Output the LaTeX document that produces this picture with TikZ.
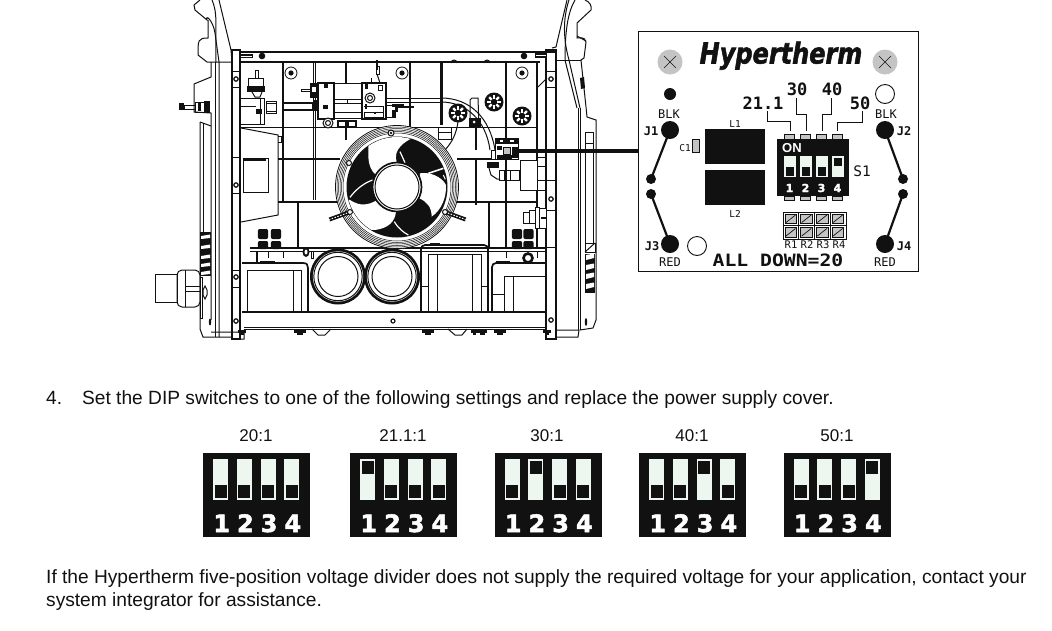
\documentclass[tikz,border=0pt]{standalone}
\usepackage{graphicx}
\usepackage{fontspec}
\setmainfont{Liberation Sans}
\newfontfamily\pcb{DejaVu Sans Mono}
\newfontfamily\pcbb{DejaVu Sans Mono Bold}
\newfontfamily\dipfont{DejaVu Sans Bold}[FakeBold=2]
\newfontfamily\brandfont{DejaVu Sans Bold Oblique}[FakeBold=2]
\definecolor{ink}{HTML}{111111}
\definecolor{sw}{HTML}{EEF7EF}
\definecolor{screwg}{HTML}{C4C4C4}
\tikzset{
 l1/.style={draw=ink,line width=1pt},
 l2/.style={draw=ink,line width=1.7pt},
 l3/.style={draw=ink,line width=2.6pt},
 body/.style={anchor=base west,inner sep=0,font=\fontsize{19.15}{23}\selectfont,text=ink},
 captxt/.style={anchor=base,inner sep=0,font=\fontsize{17}{20}\selectfont,text=ink},
 num/.style={anchor=base,inner sep=0,text=white,font=\fontsize{24}{25}\selectfont\dipfont},
 silk/.style={anchor=base,inner sep=0,text=ink,font=\fontsize{12}{12}\selectfont\pcb},
 silkb/.style={anchor=base,inner sep=0,text=ink,font=\fontsize{17}{17}\selectfont\pcbb},
}
\newcommand{\dipsw}[6]{%
 \begin{scope}[shift={(#1,#2)}]
 \fill[ink] (0,0) rectangle (107,84);
 \foreach \k/\u in {0/#3,1/#4,2/#5,3/#6}{
  \pgfmathsetmacro{\xx}{10+\k*23.8}
  \fill[sw] (\xx,6) rectangle ++(15,41);
  \ifnum\u=1 \fill[ink] (\xx+1.5,8) rectangle ++(12,13);
  \else \fill[ink] (\xx+1.5,32) rectangle ++(12,13);\fi
 }
 \foreach \k/\n in {0/1,1/2,2/3,3/4}{
  \node[num] at (18.7+\k*23.7,79) {\n};}
 \end{scope}}
\begin{document}
\begin{tikzpicture}[x=1pt,y=-1pt]
\useasboundingbox (0,0) rectangle (1052,630);
\fill[white] (0,0) rectangle (1052,630);
% ---------- power supply chassis ----------
\draw[l2] (240,52) -- (556,52);
\draw[l2] (240,62) -- (540,62);
\draw[l2] (242,312) -- (546,312);
\draw[l1] (244,327) -- (546,327);
\draw[l1] (244,329) -- (546,329);
% left handle
\draw[l1] (219,0) -- (231,50) -- (232,62);
\draw[l1] (219,337) -- (219,62) -- (215,33) .. controls (213,20) and (205,14) .. (207,20) -- (195,10) -- (194,5) -- (200,0);
\draw[l1] (212,0) .. controls (218,15) and (215,20) .. (216,62);
\draw[l1] (208,20) -- (208,38) .. controls (198,38) and (198,40) .. (198,55) -- (207,62) -- (232,62);
\draw[l1] (211,62) -- (211,77) -- (194,84) -- (194,112) -- (211,113) -- (211,320);
\draw[l1] (215,62) -- (215,337);
\draw[l1] (200,122) -- (200,329) -- (203,337) -- (232,337);
\draw[l1] (203,123) -- (203,232);
\draw[l1] (200,122) -- (211,126);
\draw[l1] (211,332) -- (237,332) -- (244,333) -- (244,339) -- (232,339);
\draw[l2] (232,50) rectangle (240,339);
\draw[l1] (232,71) -- (240,71) (232,87) -- (240,87);
\draw[l1] (232,270) -- (240,270) (232,287) -- (240,287) (232,157) -- (240,157) (232,193) -- (240,193);
\foreach \x/\y in {236/79,236/185,236/277,236/321} \draw[l1,fill=white,line width=1.2pt] (\x,\y) circle (2.2);
% left fitting
\fill[ink] (179,103) rectangle (184,110);
\draw[l1] (184,105) rectangle (195,109);
\draw[l1] (195,102) rectangle (205,112);
\fill[ink] (198,103) rectangle (201,111);
\fill[ink] (204,101) rectangle (210,113);
% cooling slots left
\fill[ink] (200,232) rectangle (211,276);
\foreach \y in {236,246,256,264,272}{\fill[white] (201,\y) -- (210,\y-1.5) -- (210,\y+2) -- (201,\y+3) -- cycle;}
% strain relief
\draw[l1] (155,274) rectangle (177,302);
\draw[l1,rounded corners=5pt] (177,270) -- (200,270) -- (200,307) -- (177,307) -- cycle;
\draw[l1] (185,270) -- (185,307) (185,286) -- (200,286) (185,291) -- (200,291);
\draw[l1] (200,277) rectangle (202,318);
\draw[l1] (205,286) -- (207,290) -- (207,295) -- (205,299) -- (203,295) -- (203,290) -- cycle;
\fill[ink] (210,322) ellipse (1.2 and 3.5);
% inner left panel
\draw[l1] (241,128) -- (278,135) -- (278,215) -- (241,222);
\draw[l1] (278,136) -- (281,136) -- (281,142) -- (278,142);
\draw[l1] (243,158) rectangle (268,192);
\fill[ink] (244,159) rectangle (266,161);
% top-left bar
\fill[ink] (240,54) rectangle (253,58);
\fill[white] (241,55.5) rectangle (252,56.5);
% vertical plate lines
\draw[l2] (283,62) -- (283,202);
\draw[l1] (313,62) -- (313,200) (315.5,62) -- (315.5,200);
\draw[l3] (346,62) -- (346,83);
\draw[l2] (346,127) -- (346,140);
\draw[l2] (410,62) -- (410,127);
\draw[l3] (441.5,62) -- (441.5,125);
\draw[l3] (506,62) -- (506,138);
\draw[l2] (476,127) -- (476,150);
\draw[l3] (476,159) -- (476,205);
\draw[l2] (506,159) -- (506,248);
\draw[l1] (241,127) -- (537,127);
\draw[l2] (278,159) -- (340,159);
\draw[l2] (278,202) -- (340,202);
\draw[l2] (298,202) -- (298,248);
\draw[l2] (455,202) -- (537,202);
\draw[l2] (489,202) -- (489,248);
\draw[l2] (250,248) -- (546,248);
\draw[l1] (250,251) -- (546,251);
\draw[l2] (457,159) -- (495,159);
\draw[l2] (537,62) -- (537,248);
% screws top
\foreach \x/\y in {291/73,402/73,522/73}{
 \draw[l1,fill=white,line width=.8pt] (\x,\y) circle (6);
 \fill[ink] (\x,\y) circle (2.6);}
\foreach \x/\y in {262/56,524/56} {\fill[ink] (\x,\y) circle (3.3);}
% left valve
\draw[l1,fill=white] (255,70) rectangle (258,78);
\draw[l1] (248,78) rectangle (263,87);
\fill[ink] (247,86) rectangle (265,92);
\draw[l1] (252,92) -- (255,97) -- (260,97) -- (262,92);
\draw[l1] (241,98) -- (264,98) -- (264,124) -- (241,124);
\draw[l1] (241,106) -- (256,106) (260,98) -- (260,124);
\fill[ink] (256,109) rectangle (262,114);
\draw[l1] (266,101) rectangle (276,113);
\draw[l1] (266,103) -- (276,103) (266,111) -- (276,111);
\draw[l2,fill=white] (283,103) rectangle (313,110);
% regulator
\fill[ink] (313,100) rectangle (317,111);
\fill[ink] (310,83) rectangle (318,98);
\fill[white] (312,87) rectangle (316,92);
\draw[l1] (301,89) rectangle (310,91);
\draw[l2,fill=white] (318,83) rectangle (334,119);
\fill[ink] (324,84) rectangle (328,88);
\fill[ink] (323,105) rectangle (328,109);
\draw[l1,fill=white] (334,83) rectangle (362,118);
\draw[l1] (334,99) -- (362,99) (334,103) -- (362,103) (347,99) -- (347,103);
\draw[l1] (334,112) -- (362,112);
\draw[l2,fill=white] (362,83) rectangle (386,119);
\draw[l1] (364,112) rectangle (383,117);
\draw[l1] (364,106) -- (383,106) -- (383,117);
\draw[l1,fill=white] (370,98) circle (5);
\draw[l1] (370,98) circle (2.5);
\draw[l1] (378,85) rectangle (382,90);
\fill[ink] (365,84) rectangle (368,89);
\fill[ink] (365,104) rectangle (367,109);
\fill[ink] (374,112) rectangle (376,114);
\draw[l2] (377,60) -- (377,70);
\draw[l1] (376,66) rectangle (379,74);
\draw[l1] (377,74) -- (380,83);
\draw[l1] (371,78) -- (371,83);
\draw[l1,fill=white] (328,123) circle (5);
\draw[l1] (328,123) circle (2.5);
\fill[ink] (337,120) rectangle (357,127);
\fill[white] (339,122) rectangle (345,126);
\fill[white] (349,122) rectangle (355,126);
% right of regulator
\draw[l1] (387,98) -- (441,98);
\draw[l1] (387,102) -- (441,102);
\draw[l1] (386,105) -- (395,105) -- (395,117) -- (386,117);
\fill[ink] (392,104) rectangle (404,107);
\fill[ink] (392,110) rectangle (396,118);
\fill[ink] (396,105) rectangle (398,112);
\fill[ink] (398,106) rectangle (414,108);
% tube to voltage divider
\draw[l1] (441,98) .. controls (470,98) and (490,118) .. (495,150);
\draw[l1] (441,102) .. controls (466,102) and (486,120) .. (490,150);
\draw[l1,fill=white] (491,150) rectangle (495,159);
\fill[ink] (487,162) rectangle (499,168);
\draw[l1] (489,168) -- (491,175) -- (497,179) -- (500,179);
\draw[l1] (499,170) rectangle (519,180);
\draw[l1] (504,170) -- (504,180) (510,170) -- (510,180);
\draw[l1,fill=white] (520,160) rectangle (537,190);
\draw[l1] (537,157) rectangle (546,190);
\draw[l1] (537,166) -- (546,166) (537,180) -- (546,180);
% wire, top bumps
\draw[l1] (458,122) .. controls (456,135) and (452,142) .. (445,150);
\draw[l1,fill=white] (438,127) rectangle (451,139);
\draw[l1] (438,132) -- (451,132);
\foreach \x in {454,487} \draw[l1] (\x-3,63) arc (180:360:3);
% plate fittings
\foreach \x/\y in {458/113,494/102,522/116}{
 \fill[ink] (\x,\y) circle (9.5);
 \foreach \a in {0,45,...,315}{\fill[white] (\x,\y) ++(\a:3.2) ++(\a+90:1.2) -- ++(\a:3.7) -- ++(\a-90:2.4) -- ++(\a+180:3.7) -- cycle;}
 }
\draw[l1] (470,127) -- (470,100) -- (472,98) -- (478,98) -- (479,127);
\fill[ink] (469,118) rectangle (481,127);
\fill[white] (474,122) circle (1.5);
% right column
\draw[l2] (546,50) rectangle (556,339);
\draw[l1] (546,71) -- (556,71) (546,87) -- (556,87) (546,180) -- (556,180) (546,210) -- (556,210) (546,247) -- (556,247);
\foreach \x/\y in {551/79,551/199,551/320} \draw[l1,fill=white,line width=1.2pt] (\x,\y) circle (2.2);
\draw[l1] (538,87) -- (547,78);
\fill[ink] (535,53) rectangle (547,58);
\fill[white] (536,55) rectangle (546,56);
% right handle
\draw[l1] (567,0) -- (556,47) -- (552,48);
\draw[l1] (575,0) .. controls (568,12) and (565,30) .. (565,60) -- (577,108);
\draw[l1] (556,60) -- (581,60);
\draw[l1] (569,0) .. controls (564,15) and (562,35) .. (569,60) -- (580,108);
\draw[l1] (585,0) .. controls (590,2) and (592,6) .. (591,10) -- (577,23) -- (577,38) .. controls (585,37) and (586,40) .. (586,42) -- (584,58) -- (581,60) -- (586,107) -- (587,117) -- (596,120) -- (596,320) -- (593,328) -- (580,330);
\draw[l1] (577,36) -- (586,41);
\draw[l1] (578,108) -- (578,330);
\draw[l1] (580,108) -- (580,330);
\draw[l1] (556,337) -- (578,337) -- (579,330) -- (556,330);
\fill[ink] (580,78) -- (584,77) -- (585,88) -- (581,89) -- cycle;
\draw[l1] (585,132) rectangle (593,143);
\draw[l1] (585,143) -- (585,243) (593,143) -- (593,243);
\draw[l1] (585,243) rectangle (595,252);
\draw[l1] (585,252) -- (595,243);
\fill[ink] (585,254) rectangle (595,293);
\foreach \y in {255,265,274,284}{\fill[white] (586,\y) -- (594,\y-1.5) -- (594,\y+3) -- (586,\y+5) -- cycle;}
\fill[ink] (586,322) ellipse (1.2 and 4);
% right inner fitting
\draw[l1,fill=white] (523,212) rectangle (529,223);
\draw[l1,fill=white] (529,210) rectangle (535,223);
\draw[l1,fill=white] (535,207) rectangle (539,228);
\draw[l1,fill=white] (539,208) rectangle (546,228);
\fill[ink] (541,217) rectangle (546,219);
% fan
\draw[l1,fill=white,line width=.8pt] (397,187) circle (61.5);
\foreach \r in {60,58.5,57,55.5,54}{\draw[ink,line width=.5pt] (397,187) circle (\r);}
\fill[ink] (397,187) circle (50.5);
\begin{scope}
\clip (397,187) circle (50);
\begin{scope}[shift={(300,110)},x=.3333pt,y=-.3333pt]
\fill[white] (205,60) -- (205,135) .. controls (205,165) and (215,185) .. (228,195) -- (290,155) .. controls (282,130) and (295,105) .. (335,85) -- (335,60) -- cycle;
\fill[white] (360,190) .. controls (390,185) and (425,200) .. (438,225) .. controls (440,260) and (425,300) .. (395,320) .. controls (395,290) and (380,275) .. (358,265) -- cycle;
\fill[white] (130,265) -- (150,270) .. controls (180,290) and (205,285) .. (228,272) -- (288,305) .. controls (285,335) and (265,355) .. (225,360) -- (130,360) -- cycle;
\draw[white,line width=1.2pt] (150,262) .. controls (170,235) and (195,218) .. (218,210);
\draw[white,line width=1.2pt] (283,335) .. controls (295,355) and (310,367) .. (325,375);
\draw[white,line width=1.2pt] (300,125) -- (315,158);
\draw[white,line width=1.6pt] (385,190) -- (430,175);
\draw[white,line width=1pt] (430,195) -- (436,208);
\end{scope}
\end{scope}
\draw[l2,fill=white] (397,187) circle (24.5);
\draw[l1] (397,187) circle (22);
\foreach \x/\y/\a in {350/212/160,445/212/20}{
 \draw[ink,line width=4pt] (\x,\y) -- ++(\a:22);
 \draw[white,line width=1pt,dash pattern=on 1.5pt off 1.5pt] (\x,\y) -- ++(\a:22);
 \draw[l1,fill=white] (\x,\y) circle (2.5);}
\draw[l1,fill=white] (391,133) circle (3);
\fill[ink] (391,133) circle (1.3);
\draw[l1,fill=white] (349,163) circle (2.5);
% divider inset
\draw[l1,fill=white] (495,138) rectangle (518,159);
\fill[ink] (495,138) rectangle (518,144);
\fill[ink] (497,146) rectangle (502,150);
\fill[ink] (512,147) rectangle (518,158);
\fill[ink] (497,155) rectangle (512,159);
\draw[l1,fill=screwg] (503,147) rectangle (510,154);
\fill[white] (500,139.5) rectangle (503,141.5);
\fill[white] (510,139.5) rectangle (514,141.5);
% bottom caps
\foreach \x/\y in {338/276.5,392/276.5}{
 \fill[ink] (\x,\y) circle (28);
 \fill[white] (\x,\y) circle (25.2);
 \draw[l1] (\x,\y) circle (24.2);
 \draw[l1] (\x,\y) circle (20);}
% grommets
\foreach \x in {263,276,517,528.5}{
 \fill[ink,rounded corners=2pt] (\x-5.2,229) rectangle (\x+5.2,239);
 \fill[ink,rounded corners=2pt] (\x-5.2,241) rectangle (\x+5.2,249);}
\draw[l2] (257,251) -- (257,262);
\draw[l1] (268,251) -- (268,258) (283,251) -- (283,258);
\draw[l1] (506,251) -- (506,258) (537,251) -- (537,258);
\draw[l3,fill=white] (528,258) circle (4.5);
\fill[ink] (306,252) ellipse (3.5 and 5);
\fill[white] (306,252) ellipse (1.5 and 2.5);
\draw[l1] (311,251) rectangle (313,258);
% transformers
\draw[l2] (242,263) -- (303,263) .. controls (307,263) and (308,265) .. (308,268) -- (308,312);
\draw[l1] (247,270) rectangle (301,312);
\draw[l1] (293,270) -- (293,312);
\fill[ink] (260,261) rectangle (275,263);
\draw[l2,rounded corners=4pt] (421,312) -- (421,245) -- (488,245) -- (488,312);
\draw[l1] (428,254) rectangle (481,312);
\draw[l1] (437,254) -- (437,312) (472,254) -- (472,312);
\draw[l1] (421,286) -- (428,286) (481,286) -- (488,286);
\fill[ink] (430,243) rectangle (440,245);
\draw[l2,rounded corners=4pt] (492,312) -- (492,263) -- (546,263);
\draw[l1] (504,276) -- (546,276);
\draw[l1] (504,276) -- (504,312) (513,276) -- (513,312);
\draw[l1] (492,294) -- (504,294);
\fill[ink] (496,261) rectangle (510,263);
% bottom feet
\foreach \x/\w in {300/6,428/6,474/3,482/5,500/6,547/4,242/4}{
 \fill[ink] (\x-\w,330) rectangle (\x+\w,333);
 \fill[ink] (\x-\w/2,333) rectangle (\x+\w/2,335);}
\draw[l1] (312,329) -- (318,335) -- (325,335) -- (331,329);
\draw[l1] (448,329) -- (455,335) -- (462,335) -- (467,329);
\draw[l1,fill=white,line width=1.2pt] (393,321) circle (2);
% ---------- leader ----------
\coordinate (lead) at (518,151);
% ---------- PCB ----------
\node[draw=ink,line width=1.7pt,minimum width=280pt,minimum height=240pt,inner sep=0,anchor=north west] (board) at (637.5,30.5) {};
\draw[draw=ink,line width=3.2pt] (lead) -- (board.west |- lead);
\foreach \x/\y in {670/62,885/62}{
 \fill[screwg] (\x,\y) circle (12.5);
 \draw[ink,line width=.6pt] (\x-6,\y-6) -- (\x+6,\y+6) (\x-6,\y+6) -- (\x+6,\y-6);}
\node[inner sep=0,anchor=base,text=ink] (brand) at (781,63.5) {\fontsize{24}{24}\selectfont\brandfont\scalebox{1}[1.2]{Hypertherm}};
\fill[ink] (670,94) circle (6);
\draw[ink,line width=.9pt] (885,94) circle (9.5);
\draw[ink,line width=.9pt] (697,246) circle (9.5);
% jumpers
\draw[ink,line width=2.2pt] (670,130) -- (651,179) (651,194) -- (670,244) (885,130) -- (903,179) (903,194) -- (885,244);
\foreach \x/\y in {670/130,670/244,885/130,885/244} \fill[ink] (\x,\y) circle (9);
\foreach \x/\y in {651/179,651/194,903/179,903/194} \fill[ink] (\x,\y) circle (5);
\foreach \t/\x/\y in {BLK/669/118,BLK/886/118,RED/670/266.5,RED/885/266.5}{
 \node[silk,font=\fontsize{12}{12}\selectfont\pcb] at (\x,\y) {\t};}
\foreach \t/\x/\y in {J1/651/135,J2/904/135,J3/652/250,J4/904/250}{
 \node[silk,font=\fontsize{12}{12}\selectfont\pcbb] at (\x,\y) {\t};}
% L1 L2 C1
\fill[ink] (705,129) rectangle (765,164);
\fill[ink] (705,170) rectangle (765,205);
\node[silk,font=\fontsize{9.5}{10}\selectfont\pcb] at (735,127) {L1};
\node[silk,font=\fontsize{9.5}{10}\selectfont\pcb] at (735,217) {L2};
\node[silk,font=\fontsize{9.5}{10}\selectfont\pcb] at (685,151) {C1};
\draw[ink,fill=screwg,line width=.8pt] (692,139) rectangle (699,152);
% switch body
\foreach \x in {784,800,816,832}{
 \draw[ink,fill=screwg,line width=.6pt] (\x,134) rectangle (\x+10,139);
 \draw[ink,fill=screwg,line width=.6pt] (\x,196) rectangle (\x+10,200);}
\fill[ink] (777,139) rectangle (849,196);
\node[anchor=base west,inner sep=0,text=white,font=\fontsize{13}{13}\selectfont\bfseries] at (782,152.5) {ON};
\foreach \k/\u in {0/0,1/0,2/0,3/1}{
 \pgfmathsetmacro{\xx}{784+\k*16}
 \fill[sw] (\xx,156) rectangle ++(11.5,21);
 \ifnum\u=1 \fill[ink] (\xx+2,157.5) rectangle ++(7.5,8.5);
 \else \fill[ink] (\xx+2,167) rectangle ++(7.5,8.5);\fi}
\foreach \k/\n in {0/1,1/2,2/3,3/4}{\node[anchor=base,inner sep=0,text=white,font=\fontsize{11}{11}\selectfont\dipfont] at (789.5+\k*16,192) {\n};}
\node[silk,font=\fontsize{14.5}{15}\selectfont\pcb] at (862,176) {S1};
% rate labels and leaders
\node[silkb] at (763,109) {21.1};
\node[silkb] at (797,95) {30};
\node[silkb] at (832,95) {40};
\node[silkb] at (860,109) {50};
\draw[ink,line width=.9pt] (767,111) -- (767,121) -- (790,121) -- (790,131);
\draw[ink,line width=.9pt] (796,98) -- (796,114) -- (806,114) -- (806,131);
\draw[ink,line width=.9pt] (831,98) -- (831,114) -- (822,114) -- (822,131);
\draw[ink,line width=.9pt] (862,111) -- (862,122) -- (837,122) -- (837,131);
% resistors
\foreach \k in {0,1,2,3}{\foreach \r in {0,1}{
 \pgfmathsetmacro{\xx}{783+\k*15.7}
 \pgfmathsetmacro{\yy}{212+\r*13.5}
 \draw[ink,line width=.6pt] (\xx,\yy) rectangle ++(15.7,13.5);
 \draw[ink,fill=screwg,line width=.7pt] (\xx+2,\yy+2) rectangle ++(11.5,9.5);
 \draw[ink,line width=.7pt] (\xx+3,\yy+10.5) -- (\xx+12.5,\yy+3);
 }}
\foreach \t/\x in {R1/791,R2/807,R3/823,R4/839}{
 \node[silk,font=\fontsize{10.5}{11}\selectfont\pcb] at (\x,248) {\t};}
\node[silkb] at (778,266) {\scalebox{1.16}[1]{ALL DOWN=20}};
% ---------- text ----------
\node[body] at (46,404) {4.};
\node[body] at (82,404) {Set the DIP switches to one of the following settings and replace the power supply cover.};
\node[captxt] at (256,441.5) {20:1};
\node[captxt] at (403,441.5) {21.1:1};
\node[captxt] at (547,441.5) {30:1};
\node[captxt] at (692,441.5) {40:1};
\node[captxt] at (837,441.5) {50:1};
\dipsw{203}{453}{0}{0}{0}{0}
\dipsw{350}{453}{1}{0}{0}{0}
\dipsw{494.5}{453}{0}{1}{0}{0}
\dipsw{639}{453}{0}{0}{1}{0}
\dipsw{783.5}{453}{0}{0}{0}{1}
\node[body] at (46,583) {If the Hypertherm five-position voltage divider does not supply the required voltage for your application, contact your};
\node[body] at (46,606) {system integrator for assistance.};
\end{tikzpicture}
\end{document}
